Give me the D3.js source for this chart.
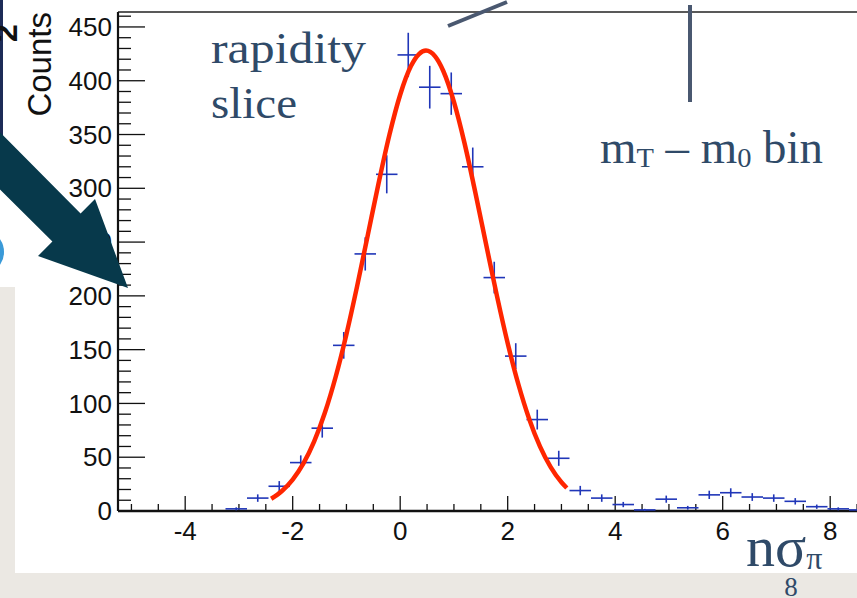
<!DOCTYPE html>
<html><head><meta charset="utf-8">
<script src="https://cdn.jsdelivr.net/npm/d3@7"></script>
<style>html,body{margin:0;padding:0;background:#ebe8e3;overflow:hidden}</style>
</head><body>
<svg id="c" width="857" height="598"></svg>
<script>
// ---- data ----
const binCenters = [-5.05,-4.65,-4.25,-3.85,-3.45,-3.05,-2.65,-2.25,-1.85,-1.45,-1.05,-0.65,-0.25,0.15,0.55,0.95,1.35,1.75,2.15,2.55,2.95,3.35,3.75,4.15,4.55,4.95,5.35,5.75,6.15,6.55,6.95,7.35,7.75,8.15,8.55];
const binCounts  = [0,0,0,0,0,2,12,23,45,77,154,239,313,424,394,388,320,217,144,85,49,19,12,6,1,11,3,15,17,13,12,9,4,2,1];
const binWidth = 0.4;
const fitX = [-2.4,-2.2,-2.0,-1.8,-1.6,-1.4,-1.2,-1.0,-0.8,-0.6,-0.4,-0.2,0,0.2,0.35,0.48,0.65,0.8,1.0,1.2,1.4,1.6,1.8,2.0,2.2,2.4,2.6,2.8,3.0,3.1];
const fitY = [11.4,18.6,29.2,44.2,64.7,91.5,124.8,164.4,209.3,257.2,305.2,349.8,387,413.6,424.8,428,422.6,409.3,380.3,341.3,295.7,247.5,200,156,117.6,85.6,60.1,40.8,26.7,21.4];
const xTickLabels = [-4,-2,0,2,4,6,8];
const yTickLabels = [0,50,100,150,200,250,300,350,400,450];
const yAxisTitle = "Counts";

// ---- layout ----
const svg = d3.select("#c");
const X0 = 118, Y0 = 511, Ytop = 12;
const x = d3.scaleLinear().domain([-5.25, 8.75]).range([X0, X0 + 14*53.75]);
const y = d3.scaleLinear().domain([0, 463.9]).range([Y0, Ytop]);

// backgrounds
svg.append("rect").attr("x",15).attr("y",0).attr("width",842).attr("height",573).attr("fill","#fff");
svg.append("rect").attr("x",0).attr("y",0).attr("width",15).attr("height",287).attr("fill","#fff");
svg.append("rect").attr("x",0).attr("y",0).attr("width",3).attr("height",140).attr("fill","#1c2b57");
svg.append("ellipse").attr("cx",-8).attr("cy",252).attr("rx",12).attr("ry",17).attr("fill","#3a9ad8");
svg.append("text").attr("transform","translate(17,33) rotate(-90)").attr("text-anchor","middle")
  .attr("font-family","Liberation Sans, Arial, sans-serif").attr("font-weight","bold").attr("font-size",32)
  .attr("fill","#111").text("2");

// frame
svg.append("line").attr("x1",X0).attr("x2",857).attr("y1",Ytop).attr("y2",Ytop).attr("stroke","#222").attr("stroke-width",1.6);

// y ticks
const yMinor = d3.range(0, 461, 10);
svg.append("g").selectAll("line").data(yMinor).join("line")
  .attr("x1",X0).attr("x2",d => d % 50 === 0 ? X0+27 : X0+13)
  .attr("y1",d=>y(d)).attr("y2",d=>y(d)).attr("stroke","#111").attr("stroke-width",1.3);
svg.append("g").selectAll("text").data(yTickLabels).join("text")
  .attr("x",112).attr("y",d=>y(d)).attr("dy","0.35em").attr("text-anchor","end")
  .attr("font-family","Liberation Sans, Arial, sans-serif").attr("font-size",26).attr("fill","#111")
  .text(d=>d);

// x ticks
const xMinor = d3.range(-5, 8.6, 0.5);
svg.append("g").selectAll("line").data(xMinor).join("line")
  .attr("x1",d=>x(d)).attr("x2",d=>x(d)).attr("y1",Y0)
  .attr("y2",d => (Math.abs(d % 2) < 1e-9) ? Y0-15 : Y0-7)
  .attr("stroke","#111").attr("stroke-width",1.3);
svg.append("g").selectAll("text").data(xTickLabels).join("text")
  .attr("x",d=>x(d)).attr("y",540).attr("text-anchor","middle")
  .attr("font-family","Liberation Sans, Arial, sans-serif").attr("font-size",26).attr("fill","#111")
  .text(d=>d);

// axes lines
svg.append("line").attr("x1",X0).attr("x2",X0).attr("y1",Ytop).attr("y2",Y0).attr("stroke","#111").attr("stroke-width",2.2);
svg.append("line").attr("x1",X0).attr("x2",857).attr("y1",Y0).attr("y2",Y0).attr("stroke","#111").attr("stroke-width",2.4);

// y title
svg.append("text").attr("transform",`translate(51,${Ytop}) rotate(-90)`).attr("text-anchor","end")
  .attr("font-family","Liberation Sans, Arial, sans-serif").attr("font-size",33).attr("fill","#111").text(yAxisTitle);

// histogram crosses
const bins = binCenters.map((c,i)=>({c, n: binCounts[i]})).filter(d=>d.n>0);
const hg = svg.append("g").attr("stroke","#2036b8").attr("stroke-width",1.6);
hg.selectAll(".h").data(bins).join("line")
  .attr("x1",d=>x(d.c-binWidth/2)).attr("x2",d=>x(d.c+binWidth/2))
  .attr("y1",d=>y(d.n)).attr("y2",d=>y(d.n));
hg.selectAll(".v").data(bins).join("line")
  .attr("x1",d=>x(d.c)).attr("x2",d=>x(d.c))
  .attr("y1",d=>y(d.n+Math.sqrt(d.n))).attr("y2",d=>y(Math.max(0,d.n-Math.sqrt(d.n))));

// fit curve
const fit = fitX.map((v,i)=>[v,fitY[i]]);
svg.append("path").datum(fit)
  .attr("d", d3.line().x(d=>x(d[0])).y(d=>y(d[1])).curve(d3.curveMonotoneX))
  .attr("fill","none").attr("stroke","#ff2600").attr("stroke-width",4.5).attr("stroke-linejoin","round");

// annotations
const serif = "Liberation Serif, Times New Roman, serif";
const tc = "#2f4a68";
svg.append("text").attr("x",211).attr("y",63).attr("font-family",serif).attr("font-size",44).attr("fill",tc)
  .attr("textLength",155).attr("lengthAdjust","spacingAndGlyphs").text("rapidity");
svg.append("text").attr("x",211).attr("y",118).attr("font-family",serif).attr("font-size",44).attr("fill",tc)
  .attr("textLength",86).attr("lengthAdjust","spacingAndGlyphs").text("slice");

const mt = svg.append("text").attr("x",600).attr("y",163).attr("font-family",serif).attr("font-size",46).attr("fill",tc)
  .attr("textLength",223).attr("lengthAdjust","spacingAndGlyphs");
mt.append("tspan").text("m");
mt.append("tspan").attr("font-size",28).attr("dy",4).text("T");
mt.append("tspan").attr("dy",-4).text(" – m");
mt.append("tspan").attr("font-size",28).attr("dy",4).text("0");
mt.append("tspan").attr("dy",-4).text(" bin");

const ns = svg.append("text").attr("x",746).attr("y",566).attr("font-family",serif).attr("font-size",58).attr("fill",tc);
ns.append("tspan").text("nσ");
ns.append("tspan").attr("font-size",32).attr("dy",3).text("π");

svg.append("text").attr("x",791).attr("y",596).attr("text-anchor","middle").attr("font-family",serif)
  .attr("font-size",27).attr("fill",tc).text("8");

// pointer lines
svg.append("line").attr("x1",448).attr("y1",26).attr("x2",507).attr("y2",2).attr("stroke","#4a5870").attr("stroke-width",4);
svg.append("line").attr("x1",690).attr("y1",5).attr("x2",690).attr("y2",102).attr("stroke","#4a5870").attr("stroke-width",4);

// big arrow
const arrowPts = [[-25,107],[80.6,213.4],[95,199],[128,288],[38,256],[52.4,241.6],[-54,136]];
svg.append("polygon").attr("points",arrowPts.map(p=>p.join(",")).join(" ")).attr("fill","#07394b");
</script>
</body></html>
